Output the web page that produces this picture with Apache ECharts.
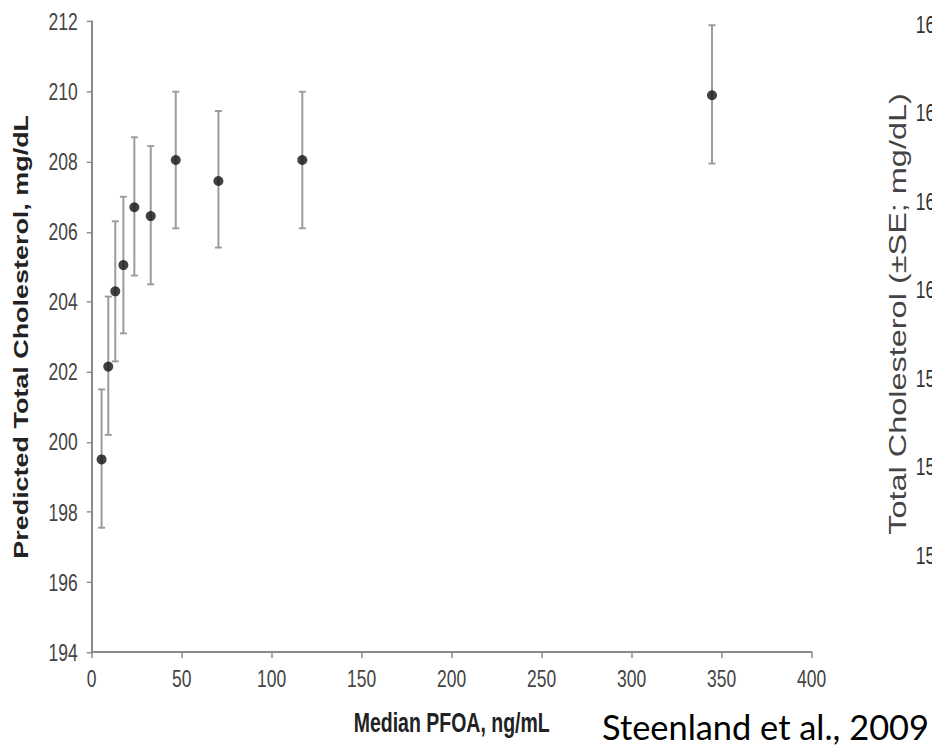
<!DOCTYPE html>
<html>
<head>
<meta charset="utf-8">
<title>Predicted total cholesterol by median PFOA</title>
<script src="https://cdn.jsdelivr.net/npm/echarts/dist/echarts.min.js"></script>
<style>
  html, body { margin: 0; padding: 0; background: #fff; overflow: hidden; }
  #page { position: relative; width: 932px; height: 746px; overflow: hidden; }
  /* the figure on the slide is stretched vertically, so draw it flat and stretch it */
  #chart { position: absolute; left: 0; top: 0; width: 932px; height: 540px;
           transform: scaleY(1.3815); transform-origin: 0 0; }
  #cite { position: absolute; left: 602px; top: 710px; font: 34.4px Lato, "Open Sans", sans-serif;
          line-height: 1; color: #000; white-space: nowrap; }
</style>
</head>
<body>
<div id="page">
  <div id="chart"></div>
  <div id="cite">Steenland et al., 2009</div>
</div>
<script>
// median PFOA of each group (ng/mL) and predicted total cholesterol (mg/dL)
var pfoa = [5.5, 9.2, 13.1, 17.6, 23.7, 32.8, 46.7, 70.4, 117, 344.6];
var cholMean = [199.5, 202.15, 204.3, 205.05, 206.7, 206.45, 208.05, 207.45, 208.05, 209.9];
var cholLow  = [197.55, 200.2, 202.3, 203.1, 204.75, 204.5, 206.1, 205.55, 206.1, 207.95];
var cholHigh = [201.5, 204.15, 206.3, 207.0, 208.7, 208.45, 210.0, 209.45, 210.0, 211.9];

// tick values of the neighbouring chart, cut off by the slide edge
var rightTicks = [154, 156, 158, 160, 162, 164, 166];

var S = 746 / 540; // vertical stretch of the figure
var font = '"Liberation Sans", Arial, sans-serif';
var axisGray = '#8a8a8a';
var barGray = '#9c9c9c';

var points = [], bars = [];
for (var i = 0; i < pfoa.length; i++) {
	points.push([pfoa[i], cholMean[i]]);
	bars.push([pfoa[i], cholLow[i], cholHigh[i]]);
}

function renderErrorBar(params, api) {
	var x = api.value(0);
	var lo = api.coord([x, api.value(1)]);
	var hi = api.coord([x, api.value(2)]);
	var cap = 3.5;
	return {
		type: 'group',
		children: [
			{ type: 'line', shape: { x1: hi[0], y1: hi[1], x2: lo[0], y2: lo[1] }, style: { stroke: barGray, lineWidth: 2 } },
			{ type: 'line', shape: { x1: hi[0] - cap, y1: hi[1], x2: hi[0] + cap, y2: hi[1] }, style: { stroke: barGray, lineWidth: 1.4 } },
			{ type: 'line', shape: { x1: lo[0] - cap, y1: lo[1], x2: lo[0] + cap, y2: lo[1] }, style: { stroke: barGray, lineWidth: 1.4 } }
		]
	};
}

var myChart = echarts.init(document.getElementById('chart'), null, { renderer: 'svg' });
var option = {
	backgroundColor: '#fff',
	animation: false,
	textStyle: { fontFamily: font },
	grid: [
		{ left: 91.7, right: 120.3, top: 21.7 / S, bottom: 94 / S },
		// right-hand chart, mostly outside the slide
		{ left: 953, width: 60, top: 24 / S, bottom: 540 - 555 / S }
	],
	xAxis: [
		{
			type: 'value',
			min: 0,
			max: 400,
			interval: 50,
			name: 'Median PFOA, ng/mL',
			nameLocation: 'middle',
			nameGap: 41,
			nameTextStyle: { fontSize: 19.5, fontWeight: 'bold', color: '#222', fontFamily: font },
			axisLine: { onZero: false, lineStyle: { color: axisGray, width: 1.5 } },
			axisTick: { length: 4.3, lineStyle: { color: axisGray, width: 1.5 } },
			axisLabel: { margin: 10, fontSize: 17.5, color: '#444', fontFamily: font },
			splitLine: { show: false }
		},
		{ type: 'value', gridIndex: 1, show: false }
	],
	yAxis: [
		{
			type: 'value',
			min: 194,
			max: 212,
			interval: 2,
			name: 'Predicted Total Cholesterol, mg/dL',
			nameLocation: 'middle',
			nameRotate: 90,
			nameGap: 60,
			nameTextStyle: { fontSize: 19.5, fontWeight: 'bold', color: '#222', fontFamily: font },
			axisLine: { show: true, onZero: false, lineStyle: { color: axisGray, width: 2 } },
			axisTick: { show: true, length: 5, lineStyle: { color: axisGray, width: 1 } },
			axisLabel: { margin: 14, fontSize: 17.5, color: '#444', fontFamily: font },
			splitLine: { show: false }
		},
		{
			type: 'value',
			gridIndex: 1,
			min: rightTicks[0],
			max: rightTicks[rightTicks.length - 1],
			interval: 2,
			axisLine: { show: false },
			axisTick: { show: false },
			axisLabel: { margin: 8, fontSize: 17.5, color: '#333', fontFamily: font },
			splitLine: { show: false }
		}
	],
	graphic: [
		{
			type: 'text',
			x: 897.5,
			y: 314 / S,
			rotation: Math.PI / 2,
			style: {
				text: 'Total Cholesterol (\u00b1SE; mg/dL)',
				fontSize: 23.5,
				fontFamily: font,
				fill: '#444',
				textAlign: 'center',
				textVerticalAlign: 'middle'
			}
		}
	],
	series: [
		{
			name: 'SE',
			type: 'custom',
			renderItem: renderErrorBar,
			encode: { x: 0, y: [1, 2] },
			data: bars,
			z: 2
		},
		{
			name: 'Predicted total cholesterol',
			type: 'scatter',
			symbol: 'circle',
			symbolSize: [10, 10 / S],
			itemStyle: { color: '#111' },
			data: points,
			z: 3
		}
	]
};
myChart.setOption(option);
</script>
</body>
</html>
